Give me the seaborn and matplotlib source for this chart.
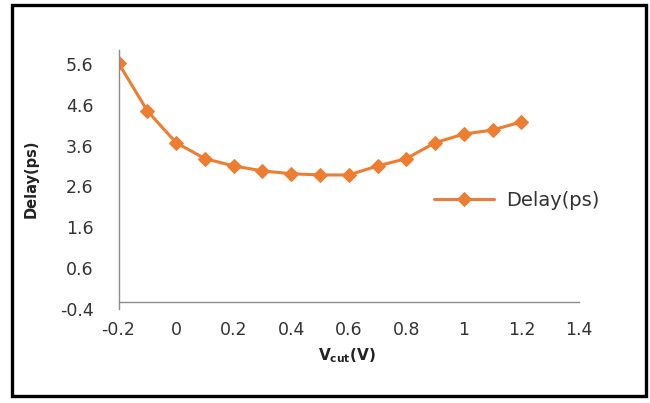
import matplotlib
matplotlib.use("Agg")
import matplotlib.pyplot as plt
import seaborn as sns
import pandas as pd
from matplotlib.patches import Rectangle

vcut = [-0.2, -0.1, 0.0, 0.1, 0.2, 0.3, 0.4, 0.5, 0.6, 0.7, 0.8, 0.9, 1.0, 1.1, 1.2]
delay = [5.62, 4.45, 3.67, 3.28, 3.10, 2.98, 2.91, 2.88, 2.88, 3.10, 3.28, 3.67, 3.88, 3.98, 4.18]
xticks = [-0.2, 0, 0.2, 0.4, 0.6, 0.8, 1, 1.2, 1.4]
xtick_labels = ["-0.2", "0", "0.2", "0.4", "0.6", "0.8", "1", "1.2", "1.4"]
yticks = [-0.4, 0.6, 1.6, 2.6, 3.6, 4.6, 5.6]
ytick_labels = ["-0.4", "0.6", "1.6", "2.6", "3.6", "4.6", "5.6"]

sns.set_style("white")
plt.rcParams['font.family'] = ['DejaVu Sans']

df = pd.DataFrame({"Vcut": vcut, "Delay(ps)": delay, "series": "Delay(ps)"})

W, H = 650, 403
fig = plt.figure(figsize=(W / 100, H / 100), dpi=100)
ax = fig.add_axes([118.5 / W, 1 - 309 / H, (579 - 118.5) / W, (309 - 49.5) / H])

orange = "#ED7D31"
sns.lineplot(data=df, x="Vcut", y="Delay(ps)", hue="series", palette=[orange],
             marker="D", markersize=7, linewidth=2.2, markeredgecolor=orange,
             ax=ax, legend=True)

ax.set_xlim(-0.2, 1.4)
ax.set_ylim(-0.4, 5.95)
ax.set_xticks(xticks)
ax.set_xticklabels(xtick_labels)
ax.set_yticks(yticks)
ax.set_yticklabels(ytick_labels)

axis_color = "#8C8C8C"
for s in ["top", "right"]:
    ax.spines[s].set_visible(False)
ax.spines["left"].set_color(axis_color)
ax.spines["bottom"].set_color(axis_color)
ax.spines["left"].set_linewidth(1.0)
ax.spines["bottom"].set_linewidth(1.0)
ax.spines["bottom"].set_position(("data", -0.24))
ax.tick_params(axis="both", colors=axis_color, length=5, width=1.0, direction="out",
               labelsize=12.5, labelcolor="#333333")
ax.tick_params(axis="y", pad=13)
ax.tick_params(axis="x", pad=8)
ax.grid(False)

ax.set_xlabel("")
ax.set_ylabel("")
fig.text(347 / W, 1 - 356 / H, r"$\mathbf{V_{cut}(V)}$", ha="center", va="center",
         fontsize=11, color="#222222")
fig.text(31 / W, 1 - 179 / H, "Delay(ps)", rotation=90, ha="center", va="center",
         fontsize=10.5, fontweight="bold", color="#222222")

handles, labels = ax.get_legend_handles_labels()
leg = ax.legend(handles, labels, loc="center left", bbox_to_anchor=(434 / W, 1 - 200 / H),
                bbox_transform=fig.transFigure, frameon=False, fontsize=14,
                handlelength=3.1, handletextpad=0.6, borderaxespad=0, borderpad=0)
for t in leg.get_texts():
    t.set_color("#333333")

fig.patches.append(Rectangle((12 / W, 1 - 396 / H), (646 - 12) / W, (396 - 5) / H,
                             transform=fig.transFigure, fill=False, edgecolor="black",
                             linewidth=2.4, figure=fig))

fig.savefig("out.png", dpi=100)
